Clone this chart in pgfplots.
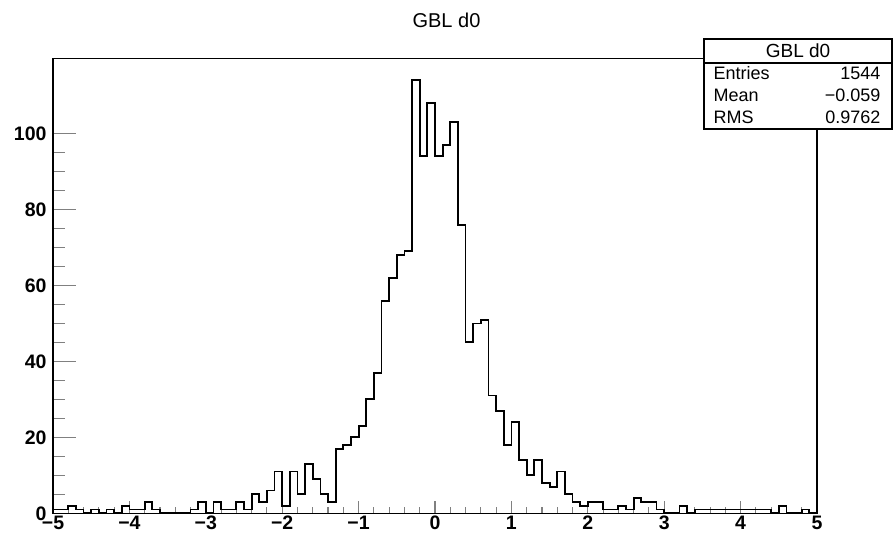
\documentclass[border=0pt]{standalone}
\usepackage{pgfplots}
\pgfplotsset{compat=1.18}
\usepackage{fontspec}
\setmainfont{Liberation Sans}
\pgfplotsset{
  rootframe/.style={
    at={(53pt,25.7pt)}, anchor=south west,
    scale only axis, width=764pt, height=455pt,
    xmin=-5, xmax=5, ymin=0, ymax=119.8,
    axis line style={line width=1.3pt},
    tick align=inside, xtick pos=lower, ytick pos=left,
    tick style={line width=1.1pt},
    tick label style={font=\fontsize{19.5}{21}\selectfont\bfseries},
  }
}
\begin{document}
\begin{tikzpicture}[x=1pt,y=1pt]
\useasboundingbox (0,0) rectangle (893,539);
% axis carrying the x ticks and the histogram
\begin{axis}[
  rootframe,
  major tick length=12pt, minor tick length=6pt,
  xtick={-5,-4,...,5},
  xticklabels={−5,−4,−3,−2,−1,0,1,2,3,4,5},
  minor x tick num=4,
  ytick=\empty,
  xticklabel style={yshift=1pt},
]
\addplot[const plot, black, line width=1.8pt] table[x=x,y=y] {
x y
-5.0 1
-4.9 1
-4.8 2
-4.7 1
-4.6 0
-4.5 1
-4.4 0
-4.3 1
-4.2 0
-4.1 2
-4.0 1
-3.9 1
-3.8 3
-3.7 1
-3.6 0
-3.5 0
-3.4 0
-3.3 0
-3.2 1
-3.1 3
-3.0 0
-2.9 3
-2.8 1
-2.7 1
-2.6 3
-2.5 1
-2.4 5
-2.3 3
-2.2 6
-2.1 11
-2.0 2
-1.9 11
-1.8 5
-1.7 13
-1.6 9
-1.5 5
-1.4 3
-1.3 17
-1.2 18
-1.1 20
-1.0 23
-0.9 30
-0.8 37
-0.7 56
-0.6 62
-0.5 68
-0.4 69
-0.3 114
-0.2 94
-0.1 108
0.0 94
0.1 97
0.2 103
0.3 76
0.4 45
0.5 50
0.6 51
0.7 31
0.8 27
0.9 18
1.0 24
1.1 14
1.2 10
1.3 14
1.4 8
1.5 7
1.6 11
1.7 5
1.8 3
1.9 2
2.0 3
2.1 3
2.2 1
2.3 1
2.4 2
2.5 1
2.6 4
2.7 3
2.8 3
2.9 1
3.0 0
3.1 0
3.2 2
3.3 0
3.4 1
3.5 1
3.6 1
3.7 1
3.8 1
3.9 1
4.0 1
4.1 1
4.2 1
4.3 1
4.4 0
4.5 2
4.6 0
4.7 0
4.8 1
4.9 0
5.0 0
};
\end{axis}
% axis carrying the y ticks
\begin{axis}[
  rootframe,
  major tick length=23pt, minor tick length=12pt,
  xtick=\empty,
  ytick={0,20,40,60,80,100},
  yticklabels={\raisebox{-10pt}{0},20,40,60,80,100},
  minor y tick num=3,
  yticklabel style={xshift=-3pt},
]
\end{axis}
% title
\node[font=\fontsize{20}{22}\selectfont] at (446.5,519) {GBL d0};
% stats box
\draw[line width=1.2pt, fill=white] (704,410) rectangle (892,500);
\draw[line width=1.2pt] (704,476) -- (892,476);
\node[font=\fontsize{19}{21}\selectfont] at (798,488) {GBL d0};
\node[font=\fontsize{18}{20}\selectfont, anchor=west] at (710,466) {Entries};
\node[font=\fontsize{18}{20}\selectfont, anchor=west] at (710,444) {Mean};
\node[font=\fontsize{18}{20}\selectfont, anchor=west] at (710,422) {RMS};
\node[font=\fontsize{18}{20}\selectfont, anchor=east] at (884,466) {1544};
\node[font=\fontsize{18}{20}\selectfont, anchor=east] at (884,444) {−0.059};
\node[font=\fontsize{18}{20}\selectfont, anchor=east] at (884,422) {0.9762};
\end{tikzpicture}
\end{document}
